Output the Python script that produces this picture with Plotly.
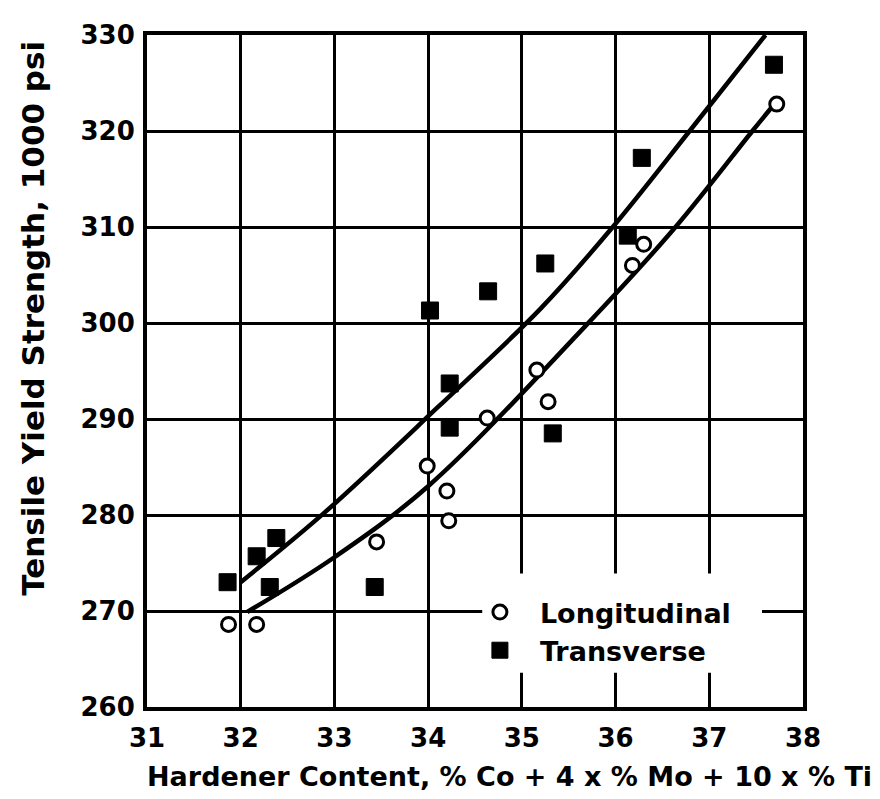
import plotly.graph_objects as go

# measured points (x = hardener content, y = yield strength in 1000 psi)
long_x = [31.87, 32.17, 33.45, 33.99, 34.20, 34.22, 34.63, 35.16, 35.28, 36.18, 36.30, 37.72]
long_y = [268.6, 268.6, 277.2, 285.1, 282.5, 279.4, 290.1, 295.1, 291.8, 306.0, 308.2, 322.8]

trans_x = [31.86, 32.17, 32.38, 32.31, 33.43, 34.02, 34.23, 34.23, 34.64, 35.25, 35.33, 36.13, 36.28, 37.69]
trans_y = [273.0, 275.7, 277.6, 272.5, 272.5, 301.3, 293.7, 289.1, 303.3, 306.2, 288.5, 309.1, 317.2, 326.9]

# fitted curves as drawn in the figure
long_fit_x = [32.07, 33.0, 34.0, 35.67, 36.64, 37.46, 37.66]
long_fit_y = [269.9, 275.6, 283.0, 299.6, 310.0, 320.0, 322.4]

trans_fit_x = [32.0, 32.9, 34.1, 35.2, 35.97, 36.79, 37.6]
trans_fit_y = [273.0, 280.3, 291.2, 301.5, 310.0, 320.0, 330.0]

x_ticks = [31, 32, 33, 34, 35, 36, 37, 38]
y_ticks = [260, 270, 280, 290, 300, 310, 320, 330]

font = "DejaVu Sans"

fig = go.Figure()
fig.add_trace(go.Scatter(x=trans_fit_x, y=trans_fit_y, mode="lines",
                         line=dict(color="black", width=4.5, shape="spline"),
                         showlegend=False, hoverinfo="skip"))
fig.add_trace(go.Scatter(x=long_fit_x, y=long_fit_y, mode="lines",
                         line=dict(color="black", width=4.5, shape="spline"),
                         showlegend=False, hoverinfo="skip"))
fig.add_trace(go.Scatter(x=long_x, y=long_y, mode="markers", name="Longitudinal",
                         marker=dict(symbol="circle", size=14, color="white",
                                     line=dict(color="black", width=3))))
fig.add_trace(go.Scatter(x=trans_x, y=trans_y, mode="markers", name="Transverse",
                         marker=dict(symbol="square", size=17, color="black",
                                     line=dict(color="black", width=1))))

axis_style = dict(showgrid=True, gridcolor="black", gridwidth=3,
                  showline=True, linecolor="black", linewidth=4, mirror=True,
                  ticks="", zeroline=False,
                  tickfont=dict(family=font, size=26, color="black", weight="bold"))

fig.update_xaxes(range=[31, 38], tickvals=x_ticks, ticklabelstandoff=5, **axis_style)
fig.update_yaxes(range=[260, 330], tickvals=y_ticks, ticklabelstandoff=3, **axis_style)

# white patch behind the legend (gridlines are broken there in the original)
fig.add_shape(type="rect", xref="paper", yref="paper",
              x0=0.511, x1=0.9375, y0=0.051, y1=0.1985,
              fillcolor="white", line=dict(width=0), layer="above")

fig.update_layout(
    width=880, height=799,
    margin=dict(l=139, r=85, t=14, b=100),
    paper_bgcolor="white", plot_bgcolor="white",
    showlegend=True,
    legend=dict(x=0.477, y=0.177, xanchor="left", yanchor="top",
                bgcolor="rgba(0,0,0,0)", borderwidth=0,
                font=dict(family=font, size=27, color="black", weight="bold"),
                itemwidth=70, tracegroupgap=0),
    annotations=[
        dict(text="Tensile Yield Strength, 1000 psi", textangle=-90,
             xref="paper", yref="paper", x=-0.175, y=0.578,
             xanchor="center", yanchor="middle", showarrow=False,
             font=dict(family=font, size=31, color="black", weight="bold")),
        dict(text="Hardener Content, % Co + 4 x % Mo + 10 x % Ti",
             xref="paper", yref="paper", x=0.553, y=-0.104,
             xanchor="center", yanchor="middle", showarrow=False,
             font=dict(family=font, size=27, color="black", weight="bold")),
    ],
)

fig.write_html("out.html")
